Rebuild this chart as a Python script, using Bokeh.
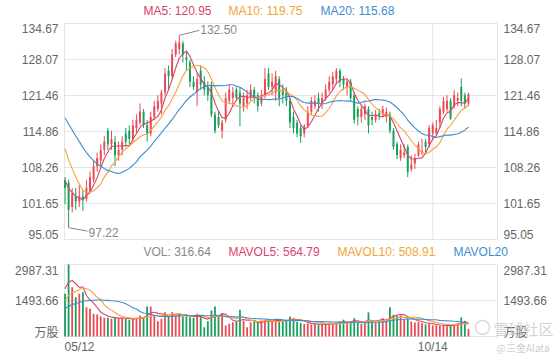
import numpy as np
import pandas as pd
from bokeh.plotting import figure
from bokeh.models import Range1d, Label, ColumnDataSource
from bokeh.embed import file_html
from bokeh.resources import INLINE

# ---------------- data ----------------
opens = [106.0, 105.5, 101.0, 103.0, 102.0, 103.0, 102.5, 104.0, 106.0, 108.5,
         109.5, 111.5, 115.0, 112.5, 113.0, 110.5, 111.5, 114.5, 115.0, 113.5,
         115.5, 116.5, 118.5, 116.0, 114.5, 117.5, 119.0, 120.0, 122.0, 126.0,
         125.0, 129.0, 130.0, 131.0, 128.5, 127.5, 124.0, 122.0, 126.0, 124.0,
         123.0, 123.5, 118.0, 117.5, 115.0, 117.0, 120.5, 121.0, 122.5, 122.0,
         119.5, 120.0, 121.0, 122.5, 121.5, 120.0, 121.5, 125.5, 123.0, 122.0,
         124.5, 122.5, 122.0, 120.5, 117.5, 116.5, 115.5, 114.5, 116.0, 118.5,
         119.5, 121.0, 120.0, 121.0, 122.5, 123.5, 124.5, 126.0, 124.5, 123.0,
         124.0, 121.5, 119.0, 117.5, 118.0, 119.0, 117.5, 117.0, 118.2, 118.0,
         117.5, 118.0, 115.0, 112.5, 110.0, 110.5, 112.0, 108.0, 109.0, 110.5,
         111.0, 113.0, 112.5, 114.5, 114.5, 116.5, 118.5, 119.0, 120.5, 119.5,
         120.5, 123.0, 121.5, 120.0]
highs = [106.5, 106.0, 104.5, 104.5, 105.0, 104.0, 106.0, 107.5, 109.5, 111.0,
         112.5, 114.0, 115.5, 115.0, 114.0, 113.0, 114.0, 115.5, 116.0, 117.0,
         118.0, 120.0, 119.0, 117.0, 118.5, 120.5, 121.5, 122.5, 126.5, 127.0,
         130.0, 131.5, 132.5, 131.5, 129.5, 128.0, 125.0, 125.5, 127.0, 125.0,
         124.0, 124.0, 118.5, 118.5, 117.0, 122.0, 123.5, 123.0, 123.0, 123.0,
         122.0, 122.5, 123.5, 123.0, 122.0, 122.5, 126.5, 126.5, 125.5, 126.0,
         125.0, 123.5, 123.0, 121.0, 118.5, 117.0, 116.0, 116.2, 119.5, 121.2,
         121.5, 122.0, 122.0, 123.5, 125.0, 125.8, 126.5, 126.4, 125.0, 124.5,
         124.5, 122.0, 119.5, 119.5, 120.0, 119.5, 118.5, 118.8, 119.0, 119.6,
         119.3, 118.5, 115.5, 113.0, 112.5, 112.5, 112.5, 110.5, 110.8, 113.0,
         113.5, 113.5, 116.0, 116.5, 117.0, 119.5, 121.2, 121.5, 121.0, 122.5,
         122.0, 124.6, 122.0, 122.0]
lows = [101.5, 97.22, 100.0, 100.5, 101.0, 100.3, 102.0, 103.5, 105.5, 107.5,
        108.5, 110.5, 111.5, 111.5, 108.5, 109.5, 110.5, 112.0, 112.5, 113.0,
        114.5, 116.0, 115.5, 113.0, 114.0, 117.0, 118.5, 118.0, 121.5, 122.5,
        124.5, 128.5, 129.0, 127.5, 126.0, 123.0, 122.5, 119.5, 122.5, 121.5,
        120.5, 117.5, 114.5, 115.5, 113.6, 116.5, 120.0, 119.5, 120.5, 115.8,
        118.5, 119.0, 120.5, 120.0, 118.5, 119.5, 121.0, 122.5, 121.5, 120.5,
        119.5, 120.0, 119.5, 115.5, 114.5, 113.8, 112.8, 113.8, 115.5, 118.0,
        119.0, 118.5, 119.0, 120.5, 122.0, 122.5, 123.5, 123.0, 122.5, 121.5,
        120.5, 116.3, 116.0, 116.5, 117.0, 114.5, 116.0, 116.5, 117.0, 117.5,
        116.5, 114.5, 111.5, 109.8, 109.5, 110.0, 106.5, 107.5, 108.0, 110.2,
        110.5, 111.0, 112.0, 113.5, 114.0, 115.5, 118.0, 118.5, 117.0, 119.0,
        119.5, 119.5, 119.0, 119.5]
closes = [104.5, 100.5, 103.5, 102.0, 103.0, 102.5, 104.5, 106.5, 108.5, 110.0,
          111.5, 113.0, 112.5, 113.5, 110.5, 111.5, 113.0, 113.0, 113.5, 116.0,
          117.0, 118.5, 116.0, 114.5, 117.5, 119.5, 120.5, 122.0, 125.5, 125.0,
          129.0, 131.0, 131.2, 129.0, 128.0, 124.0, 123.0, 124.5, 123.5, 122.5,
          121.5, 118.0, 115.0, 116.0, 116.5, 121.0, 122.5, 122.0, 121.0, 120.0,
          121.0, 121.5, 122.5, 121.0, 119.5, 121.5, 124.5, 123.0, 124.0, 125.0,
          121.0, 121.5, 120.5, 116.5, 115.5, 114.5, 114.0, 115.8, 118.5, 120.5,
          120.5, 120.0, 121.0, 122.5, 124.0, 125.0, 126.0, 124.0, 123.5, 124.0,
          121.0, 117.0, 117.5, 119.0, 119.5, 116.0, 117.0, 118.0, 117.8, 119.0,
          118.5, 115.0, 112.0, 110.5, 111.5, 111.0, 107.5, 108.8, 110.0, 112.5,
          111.3, 112.0, 115.5, 116.0, 115.5, 119.0, 120.5, 120.5, 117.25, 121.5,
          121.0, 120.5, 120.0, 121.75]
volumes = [1770, 2987.31, 2046, 1631, 1770, 1839, 1216, 1148, 941, 913,
           830, 775, 775, 733, 800, 733, 775, 733, 692, 733,
           775, 871, 800, 1245, 1245, 871, 636, 733, 1010, 871,
           1010, 871, 941, 830, 830, 800, 775, 941, 871, 387,
           636, 1079, 1245, 871, 941, 456, 525, 594, 636, 1107,
           650, 387, 594, 636, 594, 660, 690, 650, 600, 700,
           660, 620, 700, 830, 760, 600, 560, 520, 540, 500,
           520, 480, 520, 500, 560, 540, 560, 620, 700, 560,
           620, 760, 600, 520, 540, 1000, 640, 560, 600, 760,
           720, 1215, 900, 860, 870, 700, 750, 620, 580, 600,
           560, 500, 520, 460, 465.16, 440, 460, 430, 470, 507.3,
           560, 790, 650, 316.64]
# sessions before 05/12 (off-screen), needed only by the moving averages
prior_closes = [124.0, 125.0, 124.5, 123.5, 124.0, 123.0, 122.5, 122.0, 121.5, 121.0,
                121.0, 119.5, 117.5, 115.5, 114.0, 108.0, 107.0, 105.5, 104.5]
prior_volumes = [780, 820, 760, 850, 800, 790, 830, 810, 780, 840,
                 900, 950, 1020, 1050, 1120, 1600, 1713, 2300, 2517]

price_ticks = [95.05, 101.65, 108.26, 114.86, 121.46, 128.07, 134.67]
vol_ticks = [0, 1493.66, 2987.31]
vol_tick_labels = ["万股", "1493.66", "2987.31"]
date_tick_index = [0, 103]
date_tick_labels = ["05/12", "10/14"]
ma_names = ["MA5", "MA10", "MA20"]
ma_values = [120.95, 119.75, 115.68]
vol_names = ["VOL", "MAVOL5", "MAVOL10", "MAVOL20"]
vol_values = [316.64, 564.79, 508.91, None]

# ---------------- styling / layout ----------------
W, H = 560, 360
UP, DOWN = "#ea4a55", "#17a05c"
MA_COLORS = ["#d9446a", "#f2a33a", "#3d8dcf"]
GRID = "#e4e4e4"
AX_TXT = "#666666"
FONT = "Liberation Sans"
CJK = "Noto Sans CJK SC"

# pixel boxes of the two panels
FL, FR = 64, 497            # panel left / right
PT, PB = 23, 239            # price panel top / bottom
VT, VB = 264, 336           # volume panel top / bottom
X0, X1 = -0.15, 121.14      # index range of the panels

n = len(closes)
idx = np.arange(n)
o = np.array(opens); c = np.array(closes); h = np.array(highs); l = np.array(lows)
up = c >= o
colors = [UP if u else DOWN for u in up]

allc = pd.Series(prior_closes + closes)
allv = pd.Series(prior_volumes + volumes)
k = len(prior_closes)
mas = [allc.rolling(w).mean().to_numpy()[k:] for w in (5, 10, 20)]
mavs = [allv.rolling(w).mean().to_numpy()[k:] for w in (5, 10, 20)]

# ranges stretched so that the panels sit at their pixel boxes inside a full-canvas frame
px_x = (FR - FL) / (X1 - X0)
px_y = (PB - PT) / (price_ticks[-1] - price_ticks[0])
px_v = (VB - VT) / (vol_ticks[-1] - vol_ticks[0])
xr = Range1d(X0 - FL / px_x, X1 + (W - FR) / px_x)
yr = Range1d(price_ticks[0] - (H - PB) / px_y, price_ticks[-1] + PT / px_y)
vr = Range1d(vol_ticks[0] - (H - VB) / px_v, vol_ticks[-1] + VT / px_v)

p = figure(width=W, height=H, x_range=xr, y_range=yr, output_backend="svg",
           toolbar_location=None, x_axis_location=None, y_axis_location=None,
           min_border=0, min_border_left=0, min_border_right=0,
           min_border_top=0, min_border_bottom=0)
p.extra_y_ranges = {"vol": vr}
p.title.visible = False
p.grid.visible = False
p.outline_line_color = None
p.background_fill_color = "white"
p.border_fill_color = "white"


def lab(x, y, text, xo=0, yo=0, align="left", color=AX_TXT, size="12px", font=FONT,
        alpha=1.0, rng="default"):
    p.add_layout(Label(x=x, y=y, text=text, x_offset=xo, y_offset=yo, text_align=align,
                       text_baseline="middle", text_color=color, text_font_size=size,
                       text_font=font, text_alpha=alpha, y_range_name=rng))


# ---------------- grids ----------------
p.segment(x0=X0, x1=X1, y0=price_ticks, y1=price_ticks, line_color=GRID, line_width=1)
p.segment(x0=[X0, X1, date_tick_index[1]], x1=[X0, X1, date_tick_index[1]],
          y0=price_ticks[0], y1=price_ticks[-1], line_color=GRID, line_width=1)
p.segment(x0=X0, x1=X1, y0=vol_ticks, y1=vol_ticks, line_color=GRID, line_width=1, y_range_name="vol")
p.segment(x0=[X0, X1, date_tick_index[1]], x1=[X0, X1, date_tick_index[1]],
          y0=vol_ticks[0], y1=vol_ticks[-1], line_color=GRID, line_width=1, y_range_name="vol")

# ---------------- price panel ----------------
src = ColumnDataSource(dict(x=idx, high=h, low=l, top=np.maximum(o, c), bottom=np.minimum(o, c), color=colors))
p.segment(x0="x", y0="low", x1="x", y1="high", line_color="color", line_width=1, source=src)
p.vbar(x="x", width=0.55, top="top", bottom="bottom", fill_color="color", line_color=None, source=src)
for m, col in zip(mas, MA_COLORS):
    p.line(idx, m, line_color=col, line_width=1.1)

imax = int(np.argmax(h)); imin = int(np.argmin(l))
p.segment(x0=[imax], y0=[h[imax]], x1=[imax + 20 / px_x], y1=[h[imax] + 5 / px_y],
          line_color="#888888", line_width=1)
lab(imax, h[imax], f"{h[imax]:.2f}", xo=21, yo=6, color="#888888")
p.segment(x0=[imin], y0=[l[imin]], x1=[imin + 19 / px_x], y1=[l[imin] - 3.5 / px_y],
          line_color="#888888", line_width=1)
lab(imin, l[imin], f"{l[imin]:.2f}", xo=20, yo=-4.5, color="#888888")

for i, v in enumerate(price_ticks):
    yo = 5 if i == 0 else (-5 if i == len(price_ticks) - 1 else 0)
    lab(X0, v, f"{v:.2f}", xo=-6, yo=yo, align="right")
    lab(X1, v, f"{v:.2f}", xo=6, yo=yo, align="left")

for name, val, col, xo in zip(ma_names, ma_values, MA_COLORS, [79, 164, 256]):
    lab(X0, price_ticks[-1], f"{name}: {val:.2f}", xo=xo, yo=13, color=col)

# ---------------- volume panel ----------------
vsrc = ColumnDataSource(dict(x=idx, v=volumes, color=colors))
p.vbar(x="x", width=0.5, top="v", bottom=0, fill_color="color", line_color=None,
       source=vsrc, y_range_name="vol")
for m, col in zip(mavs, MA_COLORS):
    p.line(idx, m, line_color=col, line_width=1.1, y_range_name="vol")

for i, (v, t) in enumerate(zip(vol_ticks, vol_tick_labels)):
    yo = 5 if i == 0 else (-6 if i == len(vol_ticks) - 1 else 0)
    fnt = CJK if i == 0 else FONT
    lab(X0, v, t, xo=-6, yo=yo, align="right", font=fnt, rng="vol")
    lab(X1, v, t, xo=6, yo=yo, align="left", font=fnt, rng="vol")

vcols = ["#888888"] + MA_COLORS
for name, val, col, xo in zip(vol_names, vol_values, vcols, [79, 164, 273, 389]):
    txt = name if val is None else f"{name}: {val:.2f}"
    lab(X0, vol_ticks[-1], txt, xo=xo, yo=13, color=col, rng="vol")

lab(X0, 0, date_tick_labels[0], yo=-10, align="left", rng="vol")
lab(date_tick_index[1], 0, date_tick_labels[1], yo=-10, align="center", rng="vol")

# watermark (logo ring + text)
p.scatter(x=[X1 - 15 / px_x], y=[9 / px_v], marker="circle", size=14, fill_color=None,
          line_color="#cfcfcf", line_width=1.5, line_alpha=0.8, y_range_name="vol")
lab(X1, 0, "雪球社区", xo=-4, yo=8, color="#c8c8c8", size="15px", font=CJK, alpha=0.8, rng="vol")
lab(X1, 0, "@三金Alata", xo=-1, yo=-11, color="#c8c8c8", size="10px", font=CJK, alpha=0.9, rng="vol")

open("out.html", "w").write(file_html(p, INLINE))
